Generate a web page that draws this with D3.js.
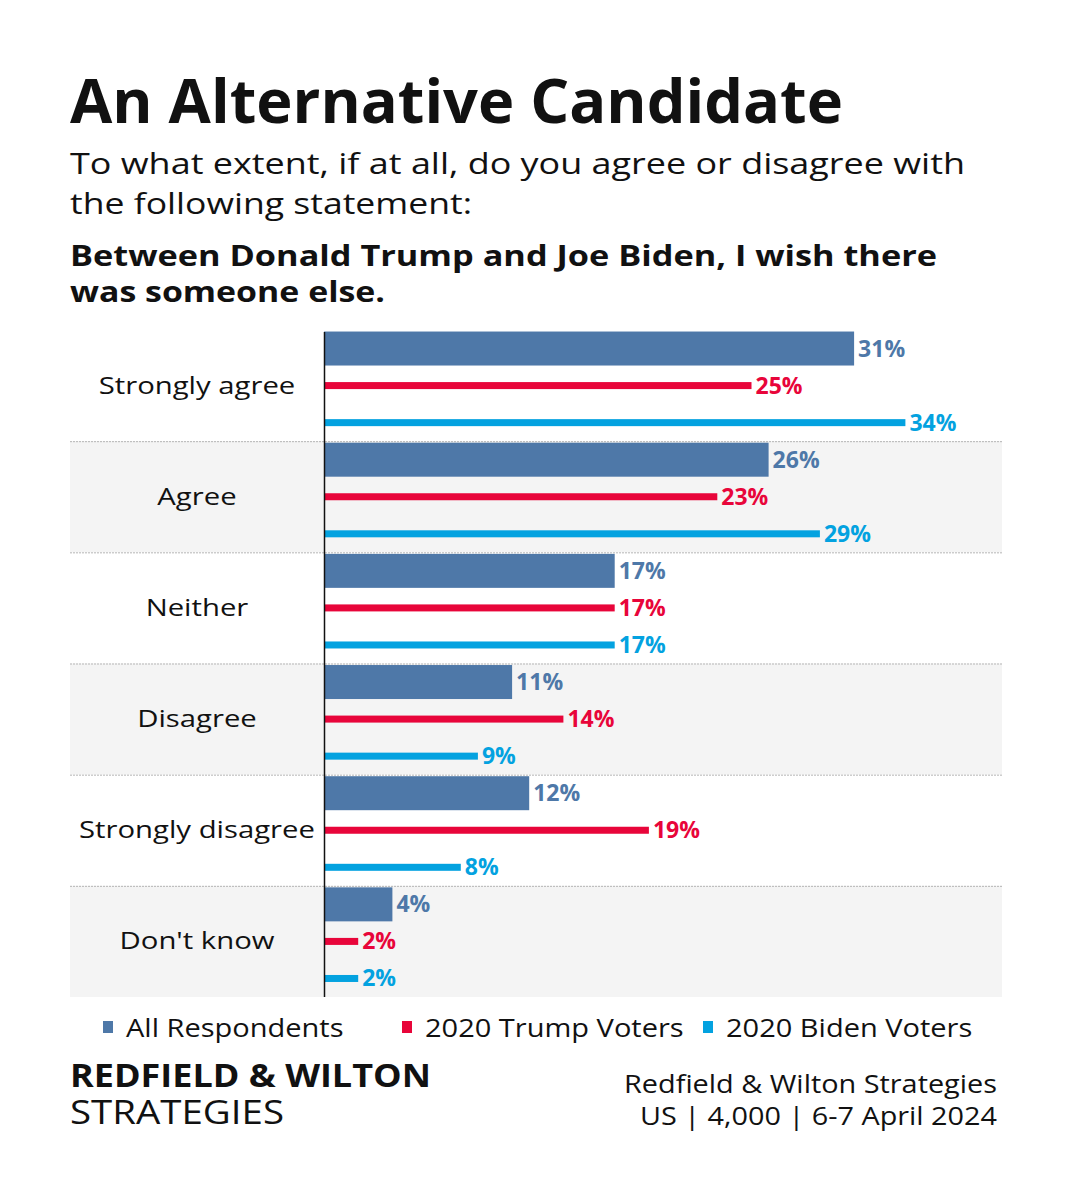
<!DOCTYPE html>
<html><head><meta charset="utf-8">
<script src="https://cdn.jsdelivr.net/npm/d3@7"></script>
<style>body{margin:0;background:#fff}svg{display:block}text{font-family:"Open Sans",sans-serif}</style>
</head><body>
<script>
const categories = ["Strongly agree","Agree","Neither","Disagree","Strongly disagree","Don't know"];
const seriesNames = ["All Respondents","2020 Trump Voters","2020 Biden Voters"];
const allRespondents = [31,26,17,11,12,4];
const trumpVoters = [25,23,17,14,19,2];
const bidenVoters = [34,29,17,9,8,2];
const seriesValues = [allRespondents, trumpVoters, bidenVoters];
const colors = ["#4e78a8","#e8053a","#03a2e0"];
const thickness = [34,7,7];

const W=1067,H=1200;
const svg=d3.select("body").append("svg").attr("width",W).attr("height",H);
svg.append("rect").attr("width",W).attr("height",H).attr("fill","#fff");

function fitText(sel,len){sel.attr("textLength",len).attr("lengthAdjust","spacingAndGlyphs");return sel;}
function widen(sel,f){const l=sel.node().getComputedTextLength();return fitText(sel,l*f);}

fitText(svg.append("text").attr("x",70).attr("y",123).attr("font-size",60).attr("font-weight",700).attr("fill","#111").text("An Alternative Candidate"),773);
fitText(svg.append("text").attr("x",70).attr("y",174).attr("font-size",30).attr("fill","#111").text("To what extent, if at all, do you agree or disagree with"),895);
fitText(svg.append("text").attr("x",70).attr("y",214).attr("font-size",30).attr("fill","#111").text("the following statement:"),402);
fitText(svg.append("text").attr("x",70).attr("y",266).attr("font-size",29).attr("font-weight",700).attr("fill","#111").text("Between Donald Trump and Joe Biden, I wish there"),867);
fitText(svg.append("text").attr("x",70).attr("y",302).attr("font-size",29).attr("font-weight",700).attr("fill","#111").text("was someone else."),315);

const x=d3.scaleLinear().domain([0,40]).range([324,1008]);
const y=d3.scaleBand().domain(categories).range([330,997]).padding(0);
const y1=d3.scaleBand().domain(seriesNames).range([0,y.bandwidth()]).padding(0);

const g=svg.append("g");
categories.forEach((c,i)=>{
  if(i%2===1) g.append("rect").attr("x",70).attr("width",932).attr("y",y(c)).attr("height",y.bandwidth()).attr("fill","#f4f4f4");
  if(i>0) g.append("line").attr("x1",70).attr("x2",1002).attr("y1",y(c)+0.5).attr("y2",y(c)+0.5).attr("stroke","#b5b5b5").attr("stroke-width",1).attr("stroke-dasharray","2,1");
  widen(g.append("text").attr("x",197).attr("y",y(c)+y.bandwidth()/2+8).attr("text-anchor","middle").attr("font-size",24).attr("fill","#111").text(c),1.22);
  seriesNames.forEach((s,j)=>{
    const v=seriesValues[j][i];
    const cy=y(c)+y1(s)+y1.bandwidth()/2;
    g.append("rect").attr("x",x(0)).attr("width",x(v)-x(0)).attr("y",cy-thickness[j]/2).attr("height",thickness[j]).attr("fill",colors[j]);
    g.append("text").attr("x",x(v)+4).attr("y",cy+8).attr("font-size",23).attr("font-weight",700).attr("fill",colors[j]).text(v+"%");
  });
});
g.append("line").attr("x1",324.5).attr("x2",324.5).attr("y1",332).attr("y2",997).attr("stroke","#111").attr("stroke-width",1.5);

// legend
const legX=[103,402,703];
seriesNames.forEach((s,j)=>{
  svg.append("rect").attr("x",legX[j]).attr("y",1021).attr("width",10).attr("height",12).attr("fill",colors[j]);
  widen(svg.append("text").attr("x",legX[j]+23).attr("y",1037).attr("font-size",25).attr("fill","#111").text(s),1.16);
});

fitText(svg.append("text").attr("x",70).attr("y",1087).attr("font-size",33).attr("font-weight",700).attr("fill","#111").text("REDFIELD & WILTON"),361);
fitText(svg.append("text").attr("x",70).attr("y",1124).attr("font-size",32).attr("fill","#111").text("STRATEGIES"),214);
fitText(svg.append("text").attr("x",624).attr("y",1093).attr("font-size",25).attr("fill","#111").text("Redfield & Wilton Strategies"),373);
fitText(svg.append("text").attr("x",640).attr("y",1125).attr("font-size",25).attr("fill","#111").text("US | 4,000 | 6-7 April 2024"),357);
</script>
</body></html>
